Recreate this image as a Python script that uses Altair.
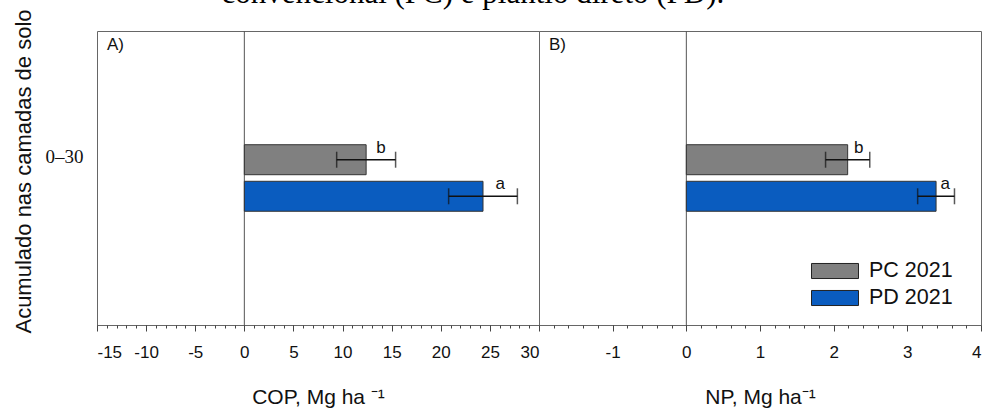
import altair as alt
import pandas as pd

# Soil layer and treatments
layer_label = "0–30"
series = ["PC 2021", "PD 2021"]
bar_colors = ["#808080", "#0a5cbf"]

# Accumulated particulate organic carbon (COP), Mg ha-1
cop_mean = [12.4, 24.3]
cop_err = [3.0, 3.5]
cop_letters = ["b", "a"]

# Accumulated particulate nitrogen (NP), Mg ha-1
np_mean = [2.19, 3.39]
np_err = [0.30, 0.25]
np_letters = ["b", "a"]

# Axis ticks
cop_domain = [-15, 30]
cop_major = [-15, -10, -5, 0, 5, 10, 15, 20, 25, 30]
cop_minor = list(range(-15, 31))
np_domain = [-2, 4]
np_major = [-1, 0, 1, 2, 3, 4]
np_minor = [round(-2 + 0.2 * i, 1) for i in range(31)]

SANS = "Liberation Sans"
SERIF = "Liberation Serif"
W, H = 442, 294


def panel(mean, err, letters, domain, major, minor, xtitle, tag, show_y, show_legend):
    df = pd.DataFrame({
        "camada": layer_label,
        "serie": series,
        "valor": mean,
        "erro": err,
        "letra": letters,
    })
    df["lo"] = df["valor"] - df["erro"]
    df["hi"] = df["valor"] + df["erro"]
    df["pos_letra"] = df["valor"] + df["erro"] / 2

    xscale = alt.Scale(domain=domain, nice=False, zero=False)
    if show_y:
        yaxis = alt.Axis(
            title="Acumulado nas camadas de solo", titleFont=SANS, titleFontSize=22,
            titleFontWeight="normal", titleColor="#111", titlePadding=10, titleY=140,
            labelFont=SERIF, labelFontSize=19, labelColor="#111", labelPadding=14,
            labelOffset=-21, ticks=False, domain=False,
        )
    else:
        yaxis = None
    y = alt.Y("camada:N", axis=yaxis, scale=alt.Scale(paddingInner=0, paddingOuter=1))
    yoff = alt.YOffset("serie:N", scale=alt.Scale(domain=series, paddingInner=0.18, paddingOuter=0.43))

    base = alt.Chart(df)

    if show_legend:
        legend = alt.Legend(
            title=None, orient="none", legendX=272, legendY=231, padding=0,
            symbolType="M-1,-0.32H1V0.32H-1Z", symbolSize=2209,
            symbolStrokeColor="#222", symbolStrokeWidth=1, symbolOpacity=1,
            labelFont=SANS, labelFontSize=21.5, labelColor="#111", labelOffset=10,
            clipHeight=18, rowPadding=5,
        )
    else:
        legend = None

    bars = base.mark_bar(stroke="#333", strokeWidth=1).encode(
        x=alt.X("valor:Q", scale=xscale, axis=alt.Axis(
            values=major, title=xtitle, orient="bottom", domain=False,
            labelExpr="'' + datum.value", labelOverlap=False,
            tickSize=6, tickColor="#444", labelFont=SANS, labelFontSize=17,
            labelColor="#111", labelPadding=13, titleFont=SANS, titleFontSize=21,
            titleFontWeight="normal", titleColor="#111", titlePadding=26,
            grid=False,
        )),
        x2=alt.X2(datum=0),
        y=y,
        yOffset=yoff,
        color=alt.Color("serie:N", scale=alt.Scale(domain=series, range=bar_colors), legend=legend),
    )

    errbar = base.mark_rule(color="#111", strokeWidth=1.5).encode(
        x=alt.X("lo:Q", scale=xscale), x2="hi:Q", y=y, yOffset=yoff,
    )
    cap_lo = base.mark_tick(color="#111", thickness=1.5, size=16, orient="vertical").encode(
        x=alt.X("lo:Q", scale=xscale), y=y, yOffset=yoff,
    )
    cap_hi = base.mark_tick(color="#111", thickness=1.5, size=16, orient="vertical").encode(
        x=alt.X("hi:Q", scale=xscale), y=y, yOffset=yoff,
    )
    letters_txt = base.mark_text(
        font=SANS, fontSize=17, color="#111", baseline="bottom", dy=-3,
    ).encode(x=alt.X("pos_letra:Q", scale=xscale), y=y, yOffset=yoff, text="letra:N")

    zero_line = alt.Chart(pd.DataFrame({"z": [0]})).mark_rule(color="#555", strokeWidth=1).encode(
        x=alt.X("z:Q", scale=xscale)
    )
    tag_txt = alt.Chart(pd.DataFrame({"t": [tag]})).mark_text(
        font=SANS, fontSize=17, color="#111", align="left", baseline="top",
    ).encode(text="t:N", x=alt.value(10), y=alt.value(6))

    main = alt.layer(zero_line, bars, errbar, cap_lo, cap_hi, letters_txt, tag_txt)

    minor_axis = alt.Chart(pd.DataFrame({"m": [domain[0]]})).mark_point(opacity=0).encode(
        x=alt.X("m:Q", scale=alt.Scale(domain=domain, nice=False, zero=False), axis=alt.Axis(
            values=minor, labels=False, title=None, orient="bottom", domain=False,
            tickSize=3, tickColor="#444", grid=False,
        )),
    )

    return alt.layer(main, minor_axis).resolve_scale(x="independent").resolve_axis(x="independent").properties(
        width=W, height=H
    )


left = panel(cop_mean, cop_err, cop_letters, cop_domain, cop_major, cop_minor,
             "COP, Mg ha ⁻¹", "A)", True, False)
right = panel(np_mean, np_err, np_letters, np_domain, np_major, np_minor,
              "NP, Mg ha⁻¹", "B)", False, True)

chart = alt.hconcat(left, right, spacing=0, bounds="flush").resolve_scale(color="independent").properties(
    title=alt.TitleParams(
        "convencional (PC) e plantio direto (PD).", font=SERIF, fontSize=31,
        fontWeight="normal", color="#000", anchor="start", dx=210, offset=-26,
        baseline="alphabetic",
    ),
    padding={"top": -22, "left": 11, "right": 0, "bottom": 0},
    background="white",
).configure_view(stroke="#666", strokeWidth=1)

chart.save("out.html", embed_options={"renderer": "svg", "actions": False})
